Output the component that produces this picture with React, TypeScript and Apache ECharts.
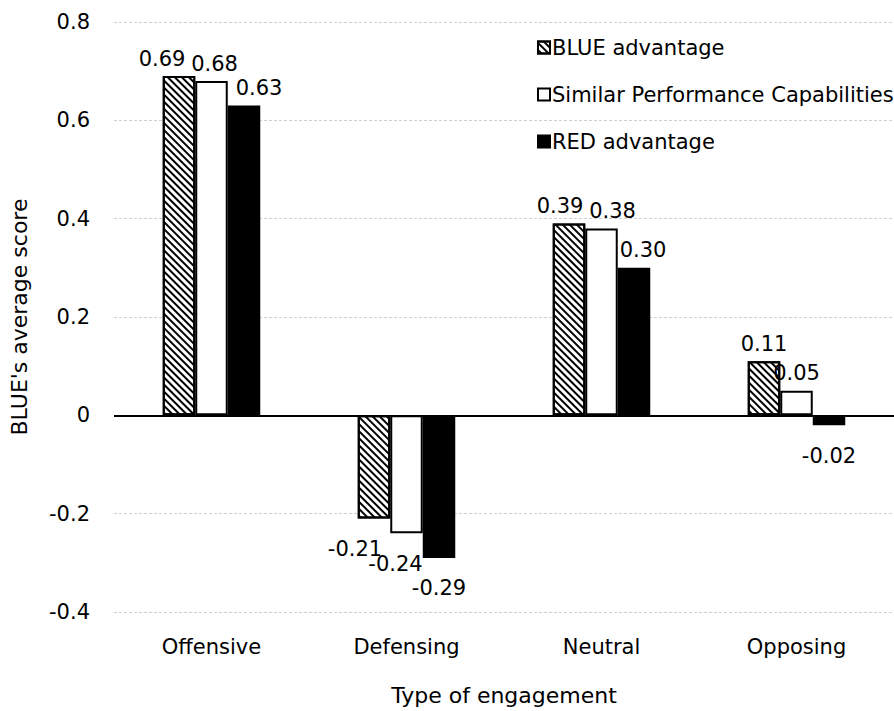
import React, { useEffect, useRef } from "react";
import * as echarts from "echarts";

const categories = ["Offensive", "Defensing", "Neutral", "Opposing"];
const seriesNames = ["BLUE advantage", "Similar Performance Capabilities", "RED advantage"];
const blueAdvantage = [0.69, -0.21, 0.39, 0.11];
const similarCapabilities = [0.68, -0.24, 0.38, 0.05];
const redAdvantage = [0.63, -0.29, 0.3, -0.02];
const yTicks = [-0.4, -0.2, 0, 0.2, 0.4, 0.6, 0.8];

// horizontal nudges (px) that keep neighbouring value labels apart
const labelNudgeBlue = [-17, -19, -9, 0];
const labelNudgeSimilar = [3, -11, 11, 0];
const labelNudgeRed = [15, 0, 9, 0];

const FONT = "'DejaVu Sans', sans-serif";
const TEXT = "#000";

const withLabels = (values: number[], nudge: number[]) =>
  values.map((v, i) => ({
    value: v,
    label: {
      position: v >= 0 ? "top" : "bottom",
      distance: v >= 0 ? 7 : 20,
      offset: [nudge[i], 0],
    },
  }));

export default function App() {
  const ref = useRef<HTMLDivElement>(null);

  useEffect(() => {
    if (!ref.current) return;
    const chart = echarts.init(ref.current, null, { renderer: "svg" });

    const barLabel = {
      show: true,
      fontFamily: FONT,
      fontSize: 21,
      color: TEXT,
      formatter: (p: any) => Number(p.value).toFixed(2),
    };

    const edge = { borderColor: "#000", borderWidth: 2 };

    chart.setOption({
      animation: false,
      backgroundColor: "#fff",
      textStyle: { fontFamily: FONT },
      grid: { left: 110, right: -10, top: 22, bottom: 91, containLabel: false },
      legend: {
        orient: "vertical",
        left: 532,
        top: 32,
        itemWidth: 12,
        itemHeight: 12,
        itemGap: 26,
        icon: "rect",
        textStyle: { fontFamily: FONT, fontSize: 21, color: TEXT, padding: [0, 0, 0, -3] },
        data: seriesNames,
      },
      xAxis: {
        type: "category",
        data: categories,
        name: "Type of engagement",
        nameLocation: "middle",
        nameGap: 72,
        nameTextStyle: { fontFamily: FONT, fontSize: 22, color: TEXT },
        axisLine: { show: false, onZero: false },
        axisTick: { show: false },
        axisLabel: { fontFamily: FONT, fontSize: 21, color: TEXT, margin: 24 },
      },
      yAxis: {
        type: "value",
        min: -0.4,
        max: 0.8,
        interval: 0.2,
        name: "BLUE's average score",
        nameLocation: "middle",
        nameGap: 84,
        nameTextStyle: { fontFamily: FONT, fontSize: 22, color: TEXT },
        axisLine: { show: false },
        axisTick: { show: false },
        splitLine: { lineStyle: { color: "#cfcfcf", type: [3, 2], width: 1 } },
        axisLabel: {
          fontFamily: FONT,
          fontSize: 21,
          color: TEXT,
          margin: 24,
          formatter: (v: number) => {
            const t = yTicks.find((x) => Math.abs(x - v) < 1e-9);
            return t === undefined ? "" : t === 0 ? "0" : String(Number(t.toFixed(1)));
          },
        },
      },
      series: [
        {
          name: seriesNames[0],
          type: "bar",
          barGap: "0%",
          barCategoryGap: "50%",
          data: withLabels(blueAdvantage, labelNudgeBlue),
          label: barLabel,
          itemStyle: {
            color: "#fff",
            ...edge,
            decal: {
              symbol: "rect",
              symbolSize: 1,
              color: "#000",
              dashArrayX: [1, 0],
              dashArrayY: [1.2, 3],
              rotation: Math.PI / 4,
            },
          },
          markLine: {
            silent: true,
            symbol: "none",
            label: { show: false },
            lineStyle: { color: "#000", width: 2, type: "solid" },
            data: [{ yAxis: 0 }],
          },
          z: 3,
        },
        {
          name: seriesNames[1],
          type: "bar",
          barGap: "0%",
          barCategoryGap: "50%",
          data: withLabels(similarCapabilities, labelNudgeSimilar),
          label: barLabel,
          itemStyle: { color: "#fff", ...edge },
          z: 3,
        },
        {
          name: seriesNames[2],
          type: "bar",
          barGap: "0%",
          barCategoryGap: "50%",
          data: withLabels(redAdvantage, labelNudgeRed),
          label: barLabel,
          itemStyle: { color: "#000", ...edge },
          z: 3,
        },
      ],
    });

    return () => chart.dispose();
  }, []);

  return (
    <div
      ref={ref}
      style={{ position: "fixed", left: 0, top: 0, width: 894, height: 711 }}
    />
  );
}
